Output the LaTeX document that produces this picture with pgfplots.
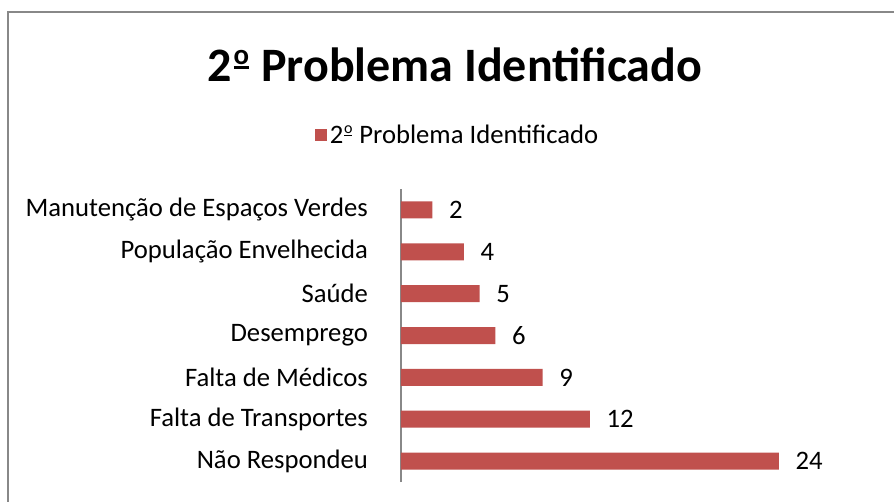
\documentclass[border=0pt]{standalone}
\usepackage{pgfplots}
\pgfplotsset{compat=1.18}
\usepackage{fontspec}
\setmainfont{Carlito}
\definecolor{barred}{HTML}{C0504D}
\definecolor{framegray}{HTML}{888888}
\newcommand{\ord}{\kern0.03em\raisebox{0.36em}{\scalebox{0.6}{o}}\llap{\rule[0.27em]{0.31em}{0.05em}\kern0.005em}\kern0.03em}
\begin{document}
\begin{tikzpicture}[x=0.75pt,y=0.75pt]
\useasboundingbox (0,0) rectangle (894,501);
\fill[white] (0,0) rectangle (894,501);
\draw[framegray,line width=1.5pt] (8,-5) -- (8,489) -- (899,489);
\node[font=\fontsize{36}{42}\selectfont\bfseries] at (455,436) {2\ord{} Problema Identificado};
\begin{axis}[
  at={(300.75pt,14.25pt)}, anchor=south west,
  scale only axis,
  width=354.375pt, height=219.75pt,
  xbar, bar width=12.75pt,
  xmin=0, xmax=30,
  ymin=-0.5, ymax=6.5,
  axis x line=none,
  axis y line*=left,
  y axis line style={framegray, line width=1.2pt, -},
  ytick={0,1,2,3,4,5,6},
  yticklabels={Não Respondeu, Falta de Transportes, Falta de Médicos, Desemprego, Saúde, População Envelhecida, Manutenção de Espaços Verdes},
  ytick style={draw=none},
  yticklabel style={font=\fontsize{20}{24}\selectfont, xshift=-17pt},
  /pgf/number format/assume math mode=true,
  nodes near coords,
  nodes near coords style={font=\fontsize{20}{24}\selectfont, anchor=west, xshift=9pt, black},
  legend style={at={(0.1206,1.184)}, anchor=center, draw=none, font=\fontsize{20}{24}\selectfont, /tikz/every even column/.append style={column sep=0pt}},
  legend image code/.code={\fill[barred] (0pt,-4.5pt) rectangle (9pt,4.5pt);},
  clip=false,
]
\addplot[fill=barred, draw=none] coordinates {
(24,0) (12,1) (9,2) (6,3) (5,4) (4,5) (2,6)
};
\addlegendentry{2\ord{} Problema Identificado}
\end{axis}
\end{tikzpicture}
\end{document}
